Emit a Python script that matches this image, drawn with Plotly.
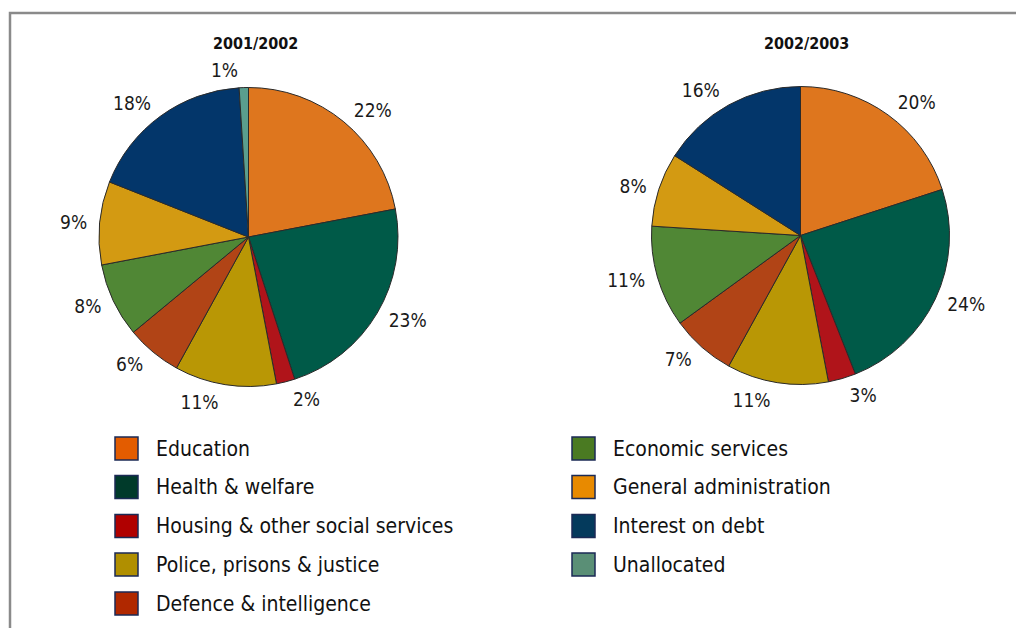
import plotly.graph_objects as go

W, H = 1016, 628

# Spending categories (clockwise from 12 o'clock)
categories = [
    "Education",
    "Health & welfare",
    "Housing & other social services",
    "Police, prisons & justice",
    "Defence & intelligence",
    "Economic services",
    "General administration",
    "Interest on debt",
    "Unallocated",
]
share_2001_02 = [22, 23, 2, 11, 6, 8, 9, 18, 1]
share_2002_03 = [20, 24, 3, 11, 7, 11, 8, 16, 0]
titles = ["2001/2002", "2002/2003"]

slice_colors = ["#DE761E", "#005A48", "#B0141A", "#B99705", "#B14416",
                "#508735", "#D39A12", "#03366A", "#5A9E8E"]
swatch_colors = ["#E35C00", "#003A2A", "#B00000", "#B08F00", "#B02800",
                 "#4A7A22", "#E88A00", "#043A5C", "#5A8F76"]

LABEL_FONT = "DejaVu Sans Condensed, Liberation Sans Narrow, sans-serif"


def px_x(x):
    return x / W


def px_y(y):
    return 1 - y / H


def pie_domain(cx, cy, r):
    return dict(x=[px_x(cx - r), px_x(cx + r)], y=[px_y(cy + r), px_y(cy - r)])


fig = go.Figure()

pies = [
    (share_2001_02, (248.5, 237, 149.5)),
    (share_2002_03, (800.5, 235.5, 149)),
]
LABEL_GAP = 7  # extra distance between the rim and the percentage labels
for values, (cx, cy, r) in pies:
    labels = [c for c, v in zip(categories, values) if v > 0]
    vals = [v for v in values if v > 0]
    cols = [col for col, v in zip(slice_colors, values) if v > 0]
    # the coloured slices
    fig.add_trace(go.Pie(
        labels=labels,
        values=vals,
        sort=False,
        direction="clockwise",
        rotation=0,
        domain=pie_domain(cx, cy, r),
        marker=dict(colors=cols, line=dict(color="#2a2a2a", width=1)),
        textinfo="none",
        hoverinfo="label+value",
        showlegend=False,
    ))
    # percentage labels, set a little further out from the rim
    fig.add_trace(go.Pie(
        labels=labels,
        values=vals,
        sort=False,
        direction="clockwise",
        rotation=0,
        domain=pie_domain(cx, cy, r + LABEL_GAP),
        marker=dict(colors=["rgba(0,0,0,0)"] * len(vals),
                    line=dict(color="rgba(0,0,0,0)", width=0)),
        texttemplate="%{value}%",
        textposition="outside",
        outsidetextfont=dict(family=LABEL_FONT, size=19, color="#1a1a1a"),
        hoverinfo="skip",
        showlegend=False,
    ))

annotations = []
for title, x in zip(titles, [255, 806]):
    annotations.append(dict(
        x=px_x(x), y=px_y(43), xref="paper", yref="paper",
        text=f"<b>{title}</b>", showarrow=False,
        font=dict(family=LABEL_FONT, size=16, color="#111"),
        xanchor="center", yanchor="middle",
    ))

# Two-column key below the pies
shapes = []
row_y = [448.5, 487, 526, 564.5, 603.5]
columns = [(115, 154, categories[:5], swatch_colors[:5]),
           (572, 611, categories[5:], swatch_colors[5:])]
for sx, tx, names, cols in columns:
    for name, col, y in zip(names, cols, row_y):
        shapes.append(dict(
            type="rect", xref="paper", yref="paper",
            x0=px_x(sx), x1=px_x(sx + 23), y0=px_y(y + 11.5), y1=px_y(y - 11.5),
            fillcolor=col, line=dict(color="#1b2a55", width=1.5),
        ))
        annotations.append(dict(
            x=px_x(tx), y=px_y(y), xref="paper", yref="paper",
            text=name, showarrow=False,
            font=dict(family=LABEL_FONT, size=21, color="#111"),
            xanchor="left", yanchor="middle",
        ))

# Frame around the panel
shapes.append(dict(
    type="rect", xref="paper", yref="paper",
    x0=px_x(10), x1=1.05, y0=-0.05, y1=px_y(13),
    line=dict(color="#8a8a8a", width=2.5), fillcolor="rgba(0,0,0,0)",
    layer="above",
))

fig.update_layout(
    width=W, height=H,
    margin=dict(l=0, r=0, t=0, b=0),
    paper_bgcolor="white",
    plot_bgcolor="white",
    annotations=annotations,
    shapes=shapes,
)

fig.write_html("out.html")
